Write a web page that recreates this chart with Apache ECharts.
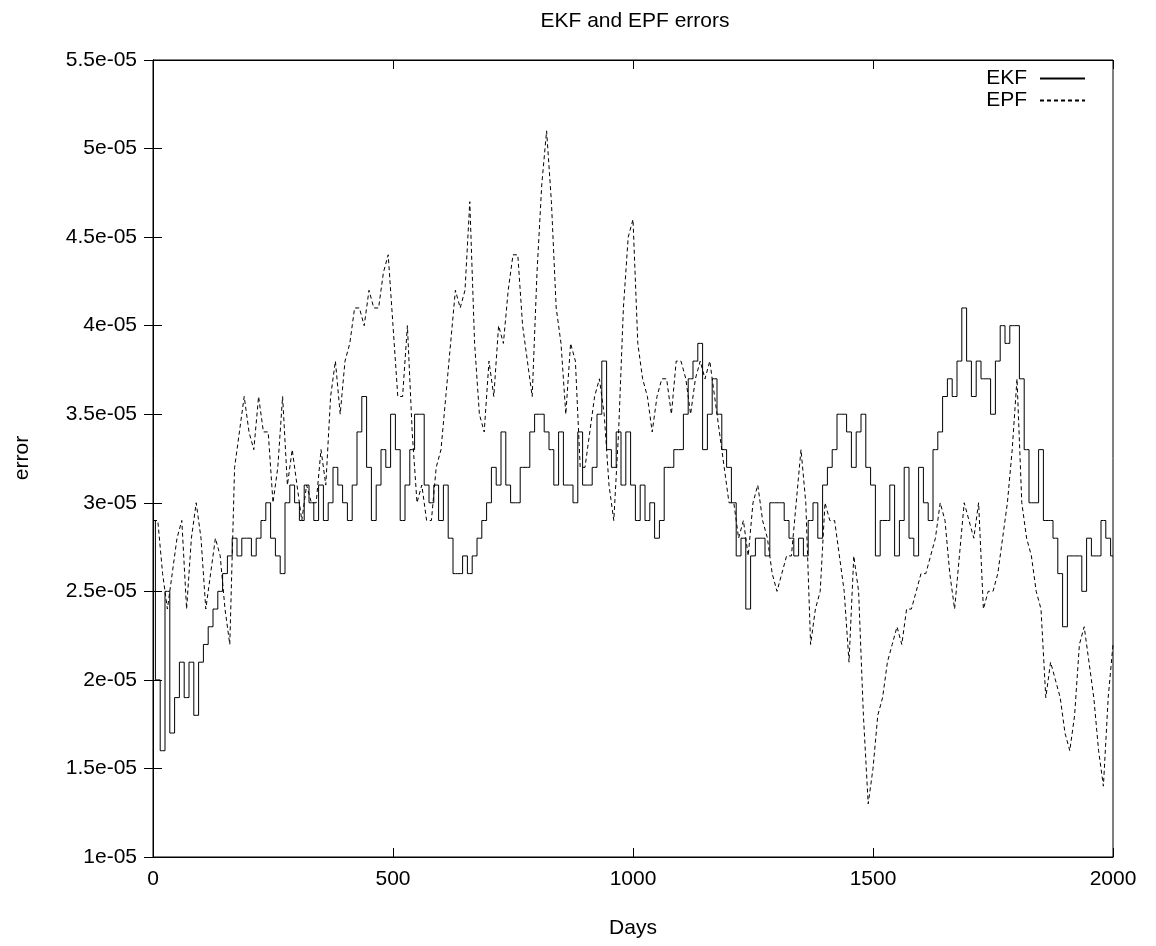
<!DOCTYPE html>
<html>
<head>
<meta charset="utf-8">
<script src="https://cdn.jsdelivr.net/npm/echarts@6/dist/echarts.min.js"></script>
<style>
  html, body { margin: 0; padding: 0; background: #fff; }
  #chart { width: 1156px; height: 946px; }
</style>
</head>
<body>
<div id="chart"></div>
<script>
// values are in units of 1e-05, sampled every 10 days
var dayStep = 10;

var ekf = [
  2.9, 2.0, 1.6, 2.5, 1.7, 1.9, 2.1, 1.9, 2.1, 1.8, 2.1, 2.2, 2.3, 2.4, 2.5, 2.6, 2.7, 2.8, 2.7, 2.8, 2.8, 2.7, 2.8, 2.9, 3.0,
  2.8, 2.7, 2.6, 3.0, 3.1, 3.0, 2.9, 3.1, 3.0, 2.9, 3.1, 2.9, 3.0, 3.2, 3.1, 3.0, 2.9, 3.1, 3.4, 3.6, 3.2, 2.9, 3.1, 3.3, 3.2, 3.5,
  3.3, 2.9, 3.1, 3.3, 3.5, 3.5, 3.1, 3.0, 3.1, 2.9, 3.1, 2.8, 2.6, 2.6, 2.7, 2.6, 2.7, 2.8, 2.9, 3.0, 3.2, 3.1, 3.4, 3.1, 3.0,
  3.0, 3.2, 3.2, 3.4, 3.5, 3.5, 3.4, 3.3, 3.1, 3.4, 3.1, 3.1, 3.0, 3.4, 3.1, 3.1, 3.2, 3.5, 3.8, 3.3, 3.2, 3.4, 3.1, 3.4, 3.1,
  2.9, 3.1, 2.9, 3.0, 2.8, 2.9, 3.2, 3.2, 3.3, 3.3, 3.5, 3.7, 3.8, 3.9, 3.3, 3.5, 3.7, 3.5, 3.3, 3.2, 3.0, 2.7, 2.8, 2.4, 2.7,
  2.8, 2.8, 2.7, 3.0, 3.0, 3.0, 2.9, 2.8, 2.7, 2.8, 2.7, 2.9, 3.0, 2.8, 3.1, 3.2, 3.3, 3.5, 3.5, 3.4, 3.2, 3.4, 3.5, 3.2, 3.1,
  2.7, 2.9, 2.9, 3.1, 2.7, 2.9, 3.2, 2.8, 2.7, 3.2, 3.0, 2.9, 3.3, 3.4, 3.6, 3.7, 3.6, 3.8, 4.1, 3.8, 3.6, 3.8, 3.7, 3.7, 3.5,
  3.8, 4.0, 3.9, 4.0, 4.0, 3.7, 3.3, 3.0, 3.0, 3.3, 2.9, 2.9, 2.8, 2.6, 2.3, 2.7, 2.7, 2.7, 2.5, 2.8, 2.7, 2.7, 2.9, 2.8, 2.7
];

var epf = [
  2.9, 2.9, 2.6, 2.4, 2.6, 2.8, 2.9, 2.4, 2.8, 3.0, 2.8, 2.4, 2.6, 2.8, 2.7, 2.4, 2.2, 3.2, 3.4, 3.6, 3.4, 3.3, 3.6, 3.4, 3.4, 3.0,
  3.2, 3.6, 3.1, 3.3, 3.1, 2.9, 3.1, 3.0, 3.0, 3.3, 3.1, 3.6, 3.8, 3.5, 3.8, 3.9, 4.1, 4.1, 4.0, 4.2, 4.1, 4.1, 4.3, 4.4, 4.0,
  3.6, 3.6, 4.0, 3.4, 3.0, 3.1, 2.9, 2.9, 3.2, 3.3, 3.6, 3.9, 4.2, 4.1, 4.2, 4.7, 3.9, 3.5, 3.4, 3.8, 3.6, 4.0, 3.9, 4.2, 4.4,
  4.4, 4.0, 3.8, 3.6, 4.3, 4.8, 5.1, 4.7, 4.1, 3.9, 3.5, 3.9, 3.8, 3.2, 3.2, 3.4, 3.6, 3.7, 3.5, 3.1, 2.9, 3.4, 4.1, 4.5, 4.6,
  3.9, 3.7, 3.6, 3.4, 3.6, 3.7, 3.7, 3.5, 3.8, 3.8, 3.7, 3.5, 3.7, 3.8, 3.7, 3.8, 3.6, 3.4, 3.2, 3.0, 3.0, 2.8, 2.9, 2.7, 3.0,
  3.1, 2.9, 2.8, 2.6, 2.5, 2.6, 2.7, 2.7, 3.0, 3.3, 3.0, 2.2, 2.4, 2.5, 3.0, 2.9, 2.9, 2.7, 2.5, 2.1, 2.7, 2.5, 1.8, 1.3, 1.5,
  1.8, 1.9, 2.1, 2.2, 2.3, 2.2, 2.4, 2.4, 2.5, 2.6, 2.6, 2.7, 2.8, 3.0, 2.9, 2.6, 2.4, 2.7, 3.0, 2.9, 2.8, 3.0, 2.4, 2.5, 2.5,
  2.6, 2.8, 3.0, 3.3, 3.7, 3.0, 2.8, 2.7, 2.5, 2.4, 1.9, 2.1, 2.0, 1.9, 1.7, 1.6, 1.8, 2.2, 2.3, 2.1, 1.9, 1.6, 1.4, 1.9, 2.2
];

function pairs(vals) {
  var out = [];
  for (var i = 0; i < vals.length; i++) {
    out.push([i * dayStep, vals[i]]);
  }
  return out;
}

var font = 'Liberation Sans, Arial, Helvetica, sans-serif';
var fs = 21;

var chart = echarts.init(document.getElementById('chart'), null, { renderer: 'canvas' });

var option = {
  animation: false,
  backgroundColor: '#fff',
  textStyle: { fontFamily: font, color: '#000' },
  grid: { left: 153, right: 43, top: 60, bottom: 89, show: true, borderColor: '#000', borderWidth: 1 },
  legend: {
    orient: 'vertical',
    right: 65,
    top: 63,
    align: 'right',
    itemWidth: 45,
    itemHeight: 12,
    itemGap: 1,
    itemStyle: { opacity: 0 },
    textStyle: { fontFamily: font, fontSize: fs, color: '#000', padding: [0, 8, 0, 0] },
    data: ['EKF', 'EPF']
  },
  xAxis: [{
    type: 'value',
    min: 0,
    max: 2000,
    interval: 500,
    position: 'bottom',
    axisLine: { lineStyle: { color: '#000' } },
    axisTick: { inside: true, length: 9, lineStyle: { color: '#000' } },
    axisLabel: {
      margin: 12, fontFamily: font, fontSize: fs, color: '#000',
      formatter: function (v) { return String(v); }
    },
    splitLine: { show: false }
  }, {
    type: 'value',
    min: 0,
    max: 2000,
    interval: 500,
    position: 'top',
    axisLine: { lineStyle: { color: '#000' } },
    axisTick: { inside: true, length: 9, lineStyle: { color: '#000' } },
    axisLabel: { show: false },
    splitLine: { show: false }
  }],
  yAxis: [{
    type: 'value',
    min: 1,
    max: 5.5,
    interval: 0.5,
    position: 'left',
    axisLine: { show: true, lineStyle: { color: '#000' } },
    axisTick: { show: true, inside: true, length: 9, lineStyle: { color: '#000' } },
    axisLabel: {
      margin: 16, fontFamily: font, fontSize: fs, color: '#000',
      formatter: function (v) { return v + 'e-05'; }
    },
    splitLine: { show: false }
  }, {
    type: 'value',
    min: 1,
    max: 5.5,
    interval: 0.5,
    position: 'right',
    axisLine: { show: true, lineStyle: { color: '#000' } },
    axisTick: { show: true, inside: true, length: 9, lineStyle: { color: '#000' } },
    axisLabel: { show: false },
    splitLine: { show: false }
  }],
  graphic: [{
    type: 'text',
    x: 635,
    y: 21,
    style: { text: 'EKF and EPF errors', fontFamily: font, fontSize: fs, fill: '#000', align: 'center', verticalAlign: 'middle' }
  }, {
    type: 'text',
    x: 22,
    y: 458,
    rotation: Math.PI / 2,
    style: { text: 'error', fontFamily: font, fontSize: fs, fill: '#000', align: 'center', verticalAlign: 'middle' }
  }, {
    type: 'text',
    x: 633,
    y: 928,
    style: { text: 'Days', fontFamily: font, fontSize: fs, fill: '#000', align: 'center', verticalAlign: 'middle' }
  }],
  series: [{
    name: 'EKF',
    type: 'line',
    data: pairs(ekf),
    step: 'middle',
    symbol: 'none',
    showSymbol: false,
    lineStyle: { color: '#000', width: 1 },
    itemStyle: { color: '#000' }
  }, {
    name: 'EPF',
    type: 'line',
    data: pairs(epf),
    symbol: 'none',
    showSymbol: false,
    lineStyle: { color: '#000', width: 1, type: [4, 3] },
    itemStyle: { color: '#000' }
  }]
};

chart.setOption(option);
</script>
</body>
</html>
